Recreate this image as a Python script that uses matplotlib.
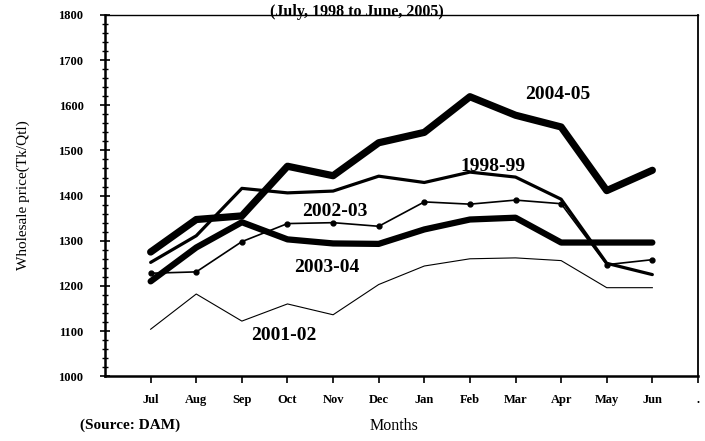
import matplotlib
import matplotlib.pyplot as plt
from matplotlib.ticker import MultipleLocator

matplotlib.use('agg')

months = ["Jul", "Aug", "Sep", "Oct", "Nov", "Dec", "Jan", "Feb", "Mar", "Apr", "May", "Jun", "."]

price_2004_05 = [1275, 1347, 1355, 1465, 1444, 1517, 1540, 1619, 1578, 1552, 1411, 1456]
price_1998_99 = [1252, 1311, 1416, 1406, 1410, 1443, 1429, 1452, 1441, 1392, 1250, 1225]
price_2002_03 = [1228, 1231, 1298, 1338, 1340, 1332, 1386, 1381, 1390, 1382, 1247, 1258]
price_2003_04 = [1210, 1285, 1341, 1303, 1294, 1293, 1325, 1347, 1351, 1296, 1296, 1296]
price_2001_02 = [1104, 1182, 1122, 1160, 1136, 1203, 1244, 1260, 1262, 1256, 1196, 1196]

plt.rcParams['font.family'] = ['Liberation Serif', 'DejaVu Serif']

fig = plt.figure(figsize=(7.05, 4.41), dpi=100)
ax = fig.add_axes([0.149, 0.147, 0.841, 0.819])

x = list(range(1, 13))
ax.plot(x, price_2001_02, color='black', lw=0.8)
ax.plot(x, price_2002_03, color='black', lw=1.2, marker='o', markersize=3.5)
ax.plot(x, price_1998_99, color='black', lw=2.3, solid_capstyle='round')
ax.plot(x, price_2003_04, color='black', lw=4.5, solid_capstyle='round', solid_joinstyle='round')
ax.plot(x, price_2004_05, color='black', lw=5.2, solid_capstyle='round', solid_joinstyle='round')

# series names written next to the lines
label_kw = dict(fontsize=14, fontweight='bold', ha='center', va='center')
ax.text(9.93, 1624, "2004-05", **label_kw)
ax.text(8.5, 1464, "1998-99", **label_kw)
ax.text(5.04, 1364, "2002-03", **label_kw)
ax.text(4.87, 1240, "2003-04", **label_kw)
ax.text(3.92, 1089, "2001-02", **label_kw)

ax.set_xlim(0, 13)
ax.set_ylim(1000, 1800)
ax.set_xticks(range(1, 14))
ax.set_xticklabels(months, fontsize=9, fontweight='bold')
ax.yaxis.set_major_locator(MultipleLocator(100))
ax.yaxis.set_minor_locator(MultipleLocator(20))
for lbl in ax.get_yticklabels():
    lbl.set_fontsize(9)
    lbl.set_fontweight('bold')
ax.tick_params(axis='y', which='major', direction='inout', length=7, width=1.2, pad=12)
ax.tick_params(axis='y', which='minor', direction='inout', length=4, width=1)
ax.tick_params(axis='x', which='major', direction='out', length=5, width=1.2, pad=8)

ax.spines['left'].set_linewidth(1.8)
ax.spines['bottom'].set_linewidth(1.8)
ax.spines['right'].set_linewidth(1.3)
ax.spines['top'].set_linewidth(1.0)

ax.set_ylabel("Wholesale price(Tk/Qtl)", fontsize=11)
ax.yaxis.set_label_coords(-0.127, 0.5)
ax.set_xlabel("Months", fontsize=11.5)
ax.xaxis.set_label_coords(0.488, -0.115)

fig.text(0.506, 0.99, "(July, 1998 to June, 2005)", fontsize=11.5, fontweight='bold', ha='center', va='top')
fig.text(0.113, 0.035, "(Source: DAM)", fontsize=11, fontweight='bold', ha='left', va='center')

fig.savefig("out.png", dpi=100)
plt.close()
